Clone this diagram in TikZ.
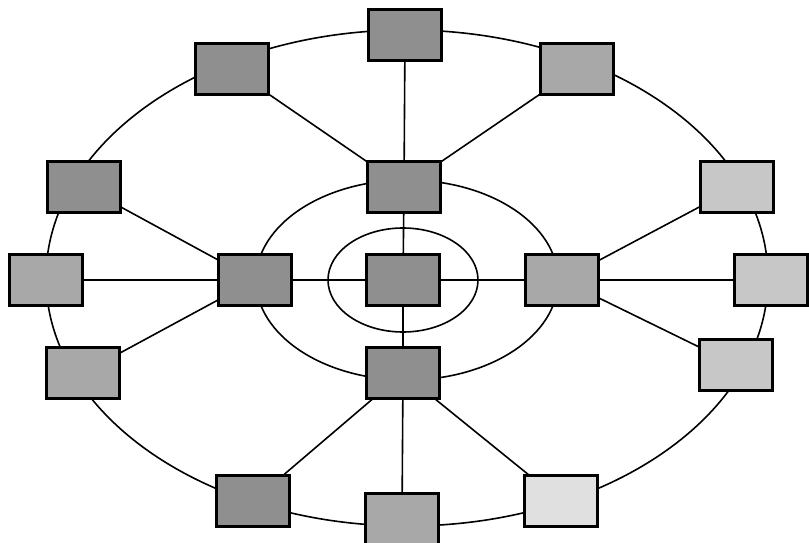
\documentclass[tikz,border=0pt]{standalone}
\usepackage{tikz}
\usetikzlibrary{positioning}

\begin{document}
\begin{tikzpicture}[x=1pt, y=-1pt,
        cell/.style={draw, line width=2.3pt, minimum width=73pt, minimum height=51pt, inner sep=0pt},
        dark/.style={cell, fill=black!44},
        mid/.style={cell, fill=black!34},
        light/.style={cell, fill=black!22},
        pale/.style={cell, fill=black!12},
        ring/.style={line width=1.6pt},
        link/.style={line width=1.6pt}
    ]
        \useasboundingbox (0,0) rectangle (809,543);
        % the three rings
        \draw[ring] (407,278) ellipse [x radius=361pt, y radius=248pt];
        \draw[ring] (407,280) ellipse [x radius=151pt, y radius=100pt];
        \draw[ring] (403,280) ellipse [x radius=75pt, y radius=52pt];

        \node[dark] (hub) at (403,280) {};
        \node[dark] (inup) at (404,187) {};
        \node[dark] (inlow) at (403,373) {};
        \node[dark] (inl) at (255,280) {};
        \node[mid] (inr) at (562,280) {};

        \node[dark] (top) at (405,35) {};
        \node[dark] (topl) at (232,69) {};
        \node[mid] (topr) at (577,69) {};
        \node[dark] (lup) at (84,187) {};
        \node[mid] (farl) at (46,280) {};
        \node[mid] (llow) at (83,373) {};
        \node[light] (rup) at (737,187) {};
        \node[light] (farr) at (771,280) {};
        \node[light] (rlow) at (736,365) {};
        \node[dark] (botl) at (253,501) {};
        \node[mid] (bot) at (402,519) {};
        \node[pale] (botr) at (561,501) {};

        % spokes to the hub
        \draw[link] (hub) -- (inup);
        \draw[link] (hub) -- (inlow);
        \draw[link] (hub) -- (inl);
        \draw[link] (hub) -- (inr);
        % branches to the outer ring
        \draw[link] (inup) -- (top);
        \draw[link] (inup) -- (topl);
        \draw[link] (inup) -- (topr);
        \draw[link] (inl) -- (lup);
        \draw[link] (inl) -- (farl);
        \draw[link] (inl) -- (llow);
        \draw[link] (inr) -- (rup);
        \draw[link] (inr) -- (farr);
        \draw[link] (inr) -- (rlow);
        \draw[link] (inlow) -- (botl);
        \draw[link] (inlow) -- (bot);
        \draw[link] (inlow) -- (botr);
    \end{tikzpicture}
\end{document}
